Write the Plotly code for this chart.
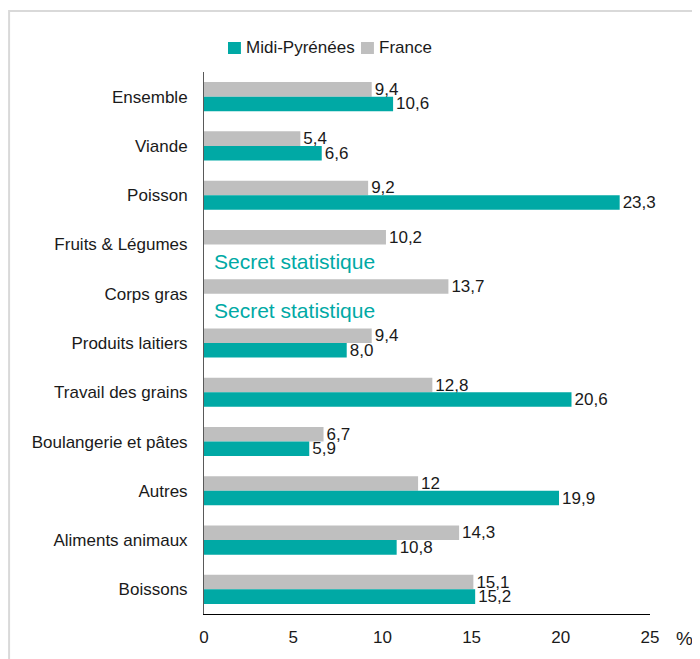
import plotly.graph_objects as go

categories = ["Ensemble", "Viande", "Poisson", "Fruits & Légumes", "Corps gras",
              "Produits laitiers", "Travail des grains", "Boulangerie et pâtes",
              "Autres", "Aliments animaux", "Boissons"]
france = [9.4, 5.4, 9.2, 10.2, 13.7, 9.4, 12.8, 6.7, 12, 14.3, 15.1]
france_labels = ["9,4", "5,4", "9,2", "10,2", "13,7", "9,4", "12,8", "6,7", "12", "14,3", "15,1"]
midi = [10.6, 6.6, 23.3, None, None, 8.0, 20.6, 5.9, 19.9, 10.8, 15.2]
midi_labels = ["10,6", "6,6", "23,3", "", "", "8,0", "20,6", "5,9", "19,9", "10,8", "15,2"]
secret_categories = ["Fruits & Légumes", "Corps gras"]
x_ticks = [0, 5, 10, 15, 20, 25]

TEAL = "#00A9A5"
GRAY = "#BFBFBF"
FONT = "Liberation Sans, Arial, sans-serif"
TXT = "#1a1a1a"

fig = go.Figure()
fig.add_trace(go.Bar(
    y=categories, x=france, name="France", orientation="h",
    marker=dict(color=GRAY, line=dict(width=0)),
    text=france_labels, textposition="outside", cliponaxis=False,
    constraintext="none",
    textfont=dict(size=17, color=TXT, family=FONT),
    hoverinfo="skip", showlegend=False,
))
fig.add_trace(go.Bar(
    y=categories, x=midi, name="Midi-Pyrénées", orientation="h",
    marker=dict(color=TEAL, line=dict(width=0)),
    text=midi_labels, textposition="outside", cliponaxis=False,
    constraintext="none",
    textfont=dict(size=17, color=TXT, family=FONT),
    hoverinfo="skip", showlegend=False,
))

for c in secret_categories:
    fig.add_annotation(x=0, y=c, xref="x", yref="y", text="Secret statistique",
                       showarrow=False, xanchor="left", yanchor="middle",
                       xshift=8, yshift=-17,
                       font=dict(size=21, color=TEAL, family=FONT))

# legend (drawn compactly, as in the reference)
legend_items = [("Midi-Pyrénées", TEAL, 0.0538), ("France", GRAY, 0.352)]
for name, color, lx in legend_items:
    fig.add_shape(type="rect", xref="paper", yref="paper",
                  x0=lx, x1=lx + 0.029, y0=1.0332, y1=1.0554,
                  line=dict(width=0), fillcolor=color)
    fig.add_annotation(x=lx + 0.038, y=1.0443, xref="paper", yref="paper",
                       text=name, showarrow=False, xanchor="left", yanchor="middle",
                       xshift=-1, font=dict(size=17, color=TXT, family=FONT))

fig.add_annotation(x=1, y=0, xref="paper", yref="paper", text="%",
                   showarrow=False, xanchor="left", yanchor="top",
                   xshift=24, yshift=-12,
                   font=dict(size=19, color=TXT, family=FONT))

# outer frame
fig.add_shape(type="rect", xref="paper", yref="paper",
              x0=-0.437, x1=2, y0=-0.2, y1=1.1125,
              line=dict(color="#D9D9D9", width=2), fillcolor="rgba(0,0,0,0)",
              layer="below")

fig.update_layout(
    width=692, height=651,
    margin=dict(l=196, r=50, t=64, b=45),
    paper_bgcolor="white", plot_bgcolor="white",
    barmode="group", bargap=0.41, bargroupgap=0,
    font=dict(family=FONT, size=17, color=TXT),
    showlegend=False,
    xaxis=dict(range=[0, 25], tickvals=x_ticks, ticktext=[str(v) for v in x_ticks],
               showgrid=False, zeroline=False, showline=True, linecolor="#000000",
               linewidth=1, ticks="", ticklabelstandoff=8,
               tickfont=dict(size=17, color=TXT, family=FONT)),
    yaxis=dict(autorange="reversed", showgrid=False, zeroline=False, showline=True,
               linecolor="#595959", linewidth=1, ticks="", ticklabelstandoff=12,
               tickfont=dict(size=17, color=TXT, family=FONT)),
)

fig.write_html("out.html")
